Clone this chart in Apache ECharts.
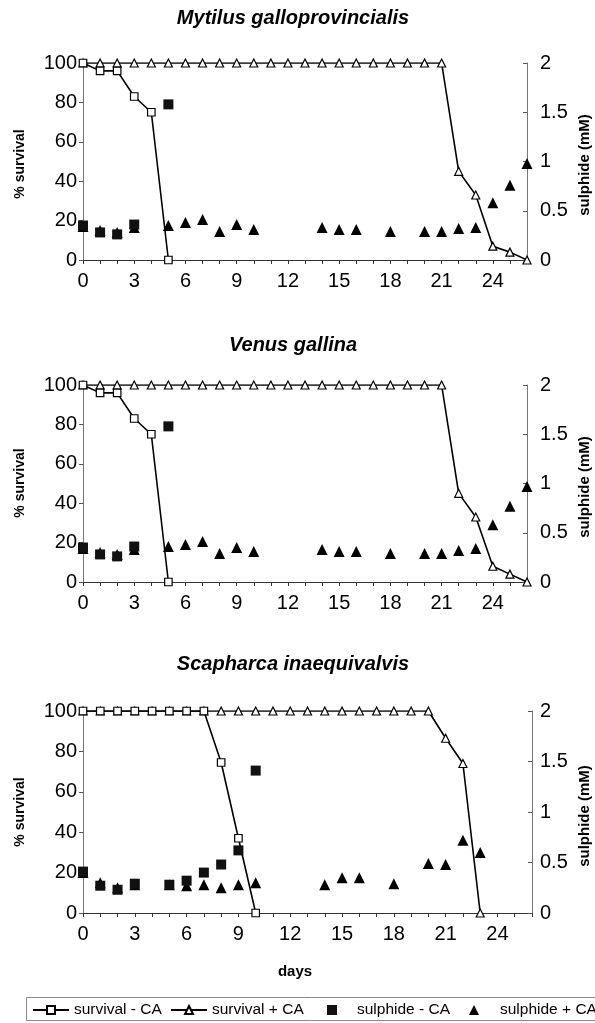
<!DOCTYPE html>
<html>
<head>
<meta charset="utf-8">
<script src="https://cdn.jsdelivr.net/npm/echarts@6/dist/echarts.min.js"></script>
<style>
html,body{margin:0;padding:0;background:#fff;}
#chart{width:595px;height:1023px;}
</style>
</head>
<body>
<div id="chart"></div>
<script>
// ---- Data (day, value) ----
const panelTitles = ['Mytilus galloprovincialis', 'Venus gallina', 'Scapharca inaequivalvis'];
const seriesNames = ['survival - CA', 'survival + CA', 'sulphide - CA', 'sulphide + CA'];
const xTickLabels = [0, 3, 6, 9, 12, 15, 18, 21, 24];
const leftTicks = [0, 20, 40, 60, 80, 100];
const rightTicks = [0, 0.5, 1, 1.5, 2];

// Mytilus galloprovincialis
const mytSurvMinus = [[0,100],[1,96],[2,96],[3,83],[4,75],[5,0]];
const mytSurvPlus = [[0,100],[1,100],[2,100],[3,100],[4,100],[5,100],[6,100],[7,100],[8,100],[9,100],[10,100],[11,100],[12,100],[13,100],[14,100],[15,100],[16,100],[17,100],[18,100],[19,100],[20,100],[21,100],[22,45],[23,33],[24,7],[25,4],[26,0]];
const mytSulphMinus = [[0,0.35],[1,0.28],[2,0.26],[3,0.36],[5,1.58]];
const mytSulphPlus = [[0,0.34],[1,0.30],[2,0.28],[3,0.33],[5,0.35],[6,0.38],[7,0.41],[8,0.29],[9,0.36],[10,0.31],[14,0.33],[15,0.31],[16,0.31],[18,0.29],[20,0.29],[21,0.29],[22,0.32],[23,0.33],[24,0.58],[25,0.76],[26,0.98]];

// Venus gallina
const venSurvMinus = [[0,100],[1,96],[2,96],[3,83],[4,75],[5,0]];
const venSurvPlus = [[0,100],[1,100],[2,100],[3,100],[4,100],[5,100],[6,100],[7,100],[8,100],[9,100],[10,100],[11,100],[12,100],[13,100],[14,100],[15,100],[16,100],[17,100],[18,100],[19,100],[20,100],[21,100],[22,45],[23,33],[24,8],[25,4],[26,0]];
const venSulphMinus = [[0,0.35],[1,0.28],[2,0.26],[3,0.36],[5,1.58]];
const venSulphPlus = [[0,0.34],[1,0.30],[2,0.28],[3,0.33],[5,0.36],[6,0.38],[7,0.41],[8,0.29],[9,0.35],[10,0.31],[14,0.33],[15,0.31],[16,0.31],[18,0.29],[20,0.29],[21,0.29],[22,0.32],[23,0.34],[24,0.58],[25,0.77],[26,0.97]];

// Scapharca inaequivalvis
const scaSurvMinus = [[0,100],[1,100],[2,100],[3,100],[4,100],[5,100],[6,100],[7,100],[8,74.5],[9,37],[10,0]];
const scaSurvPlus = [[0,100],[1,100],[2,100],[3,100],[4,100],[5,100],[6,100],[7,100],[8,100],[9,100],[10,100],[11,100],[12,100],[13,100],[14,100],[15,100],[16,100],[17,100],[18,100],[19,100],[20,100],[21,86.5],[22,74],[23,0]];
const scaSulphMinus = [[0,0.41],[1,0.27],[2,0.23],[3,0.29],[5,0.28],[6,0.32],[7,0.40],[8,0.48],[9,0.62],[10,1.41]];
const scaSulphPlus = [[0,0.40],[1,0.30],[2,0.25],[3,0.28],[5,0.28],[6,0.27],[7,0.28],[8,0.25],[9,0.28],[10,0.30],[14,0.28],[15,0.35],[16,0.35],[18,0.29],[20,0.49],[21,0.48],[22,0.72],[23,0.60]];

const panels = [
  {survMinus: mytSurvMinus, survPlus: mytSurvPlus, sulphMinus: mytSulphMinus, sulphPlus: mytSulphPlus},
  {survMinus: venSurvMinus, survPlus: venSurvPlus, sulphMinus: venSulphMinus, sulphPlus: venSulphPlus},
  {survMinus: scaSurvMinus, survPlus: scaSurvPlus, sulphMinus: scaSulphMinus, sulphPlus: scaSulphPlus}
];

// ---- Layout ----
const FONT = '"Liberation Sans", Arial, Helvetica, sans-serif';
const grids = [
  {left: 83, right: 68, top: 63, height: 197},
  {left: 83, right: 68, top: 385, height: 197},
  {left: 83, right: 63, top: 711, height: 202}
];
const titleY = [18, 345, 664];
const leftNameY = [164, 483, 812];
const rightNameY = [165, 487, 816];
const rightLabelMargin = [13, 13, 8];

const chart = echarts.init(document.getElementById('chart'), null, {renderer: 'canvas'});

const xAxes = [], yAxes = [], series = [], graphics = [];
grids.forEach((g, i) => {
  xAxes.push({
    type: 'value', gridIndex: i, min: 0, max: 26, interval: 1,
    axisLine: {lineStyle: {color: '#333', width: 1}},
    axisTick: {show: true, length: 4, lineStyle: {color: '#333'}},
    splitLine: {show: false},
    axisLabel: {
      margin: 11, color: '#000', fontSize: 20, fontFamily: FONT,
      formatter: v => xTickLabels.indexOf(v) >= 0 ? String(v) : ''
    }
  });
  yAxes.push({
    type: 'value', gridIndex: i, position: 'left', min: 0, max: 100, interval: 20,
    axisLine: {show: true, lineStyle: {color: '#777', width: 1}},
    axisTick: {show: true, length: 4, lineStyle: {color: '#555'}},
    splitLine: {show: false},
    axisLabel: {margin: 6, color: '#000', fontSize: 20, fontFamily: FONT,
      formatter: v => leftTicks.indexOf(v) >= 0 ? String(v) : ''}
  });
  yAxes.push({
    type: 'value', gridIndex: i, position: 'right', min: 0, max: 2, interval: 0.5,
    axisLine: {show: true, lineStyle: {color: '#777', width: 1}},
    axisTick: {show: true, inside: true, length: 4, lineStyle: {color: '#555'}},
    splitLine: {show: false},
    axisLabel: {margin: rightLabelMargin[i], color: '#000', fontSize: 20, fontFamily: FONT,
      formatter: v => rightTicks.indexOf(v) >= 0 ? String(v) : ''}
  });
  const p = panels[i];
  series.push({
    name: seriesNames[1], type: 'line', xAxisIndex: i, yAxisIndex: 2 * i,
    data: p.survPlus, symbol: 'triangle', symbolSize: 8, showAllSymbol: true,
    lineStyle: {color: '#000', width: 1.6}, itemStyle: {color: '#fff', borderColor: '#000', borderWidth: 1.2},
    z: 2
  });
  series.push({
    name: seriesNames[0], type: 'line', xAxisIndex: i, yAxisIndex: 2 * i,
    data: p.survMinus, symbol: 'rect', symbolSize: 7.5, showAllSymbol: true,
    lineStyle: {color: '#000', width: 1.6}, itemStyle: {color: '#fff', borderColor: '#000', borderWidth: 1.2},
    z: 3
  });
  series.push({
    name: seriesNames[3], type: 'scatter', xAxisIndex: i, yAxisIndex: 2 * i + 1,
    data: p.sulphPlus, symbol: 'triangle', symbolSize: 11,
    itemStyle: {color: '#000', opacity: 1}, z: 4
  });
  series.push({
    name: seriesNames[2], type: 'scatter', xAxisIndex: i, yAxisIndex: 2 * i + 1,
    data: p.sulphMinus, symbol: 'rect', symbolSize: 10,
    itemStyle: {color: '#111', opacity: 1}, z: 5
  });

  graphics.push({
    type: 'text', x: 293, y: titleY[i], z: 10,
    style: {text: panelTitles[i], font: 'italic bold 20px ' + FONT, fill: '#000', textAlign: 'center', textVerticalAlign: 'middle'}
  });
  graphics.push({
    type: 'text', x: 20, y: leftNameY[i], rotation: Math.PI / 2, z: 10,
    style: {text: '% survival', font: 'bold 14px ' + FONT, fill: '#000', textAlign: 'center', textVerticalAlign: 'middle'}
  });
  graphics.push({
    type: 'text', x: 585, y: rightNameY[i], rotation: Math.PI / 2, z: 10,
    style: {text: 'sulphide (mM)', font: 'bold 15px ' + FONT, fill: '#000', textAlign: 'center', textVerticalAlign: 'middle'}
  });
});

graphics.push({
  type: 'text', x: 295, y: 972, z: 10,
  style: {text: 'days', font: 'bold 15px ' + FONT, fill: '#000', textAlign: 'center', textVerticalAlign: 'middle'}
});
graphics.push({
  type: 'rect', z: 0, shape: {x: 26.5, y: 997.5, width: 580, height: 23},
  style: {fill: 'none', stroke: '#888', lineWidth: 1}
});

const legendCfg = [
  {left: 32, w: 36, h: 10, pad: 0},
  {left: 170, w: 36, h: 10, pad: 0},
  {left: 327, w: 10, h: 10, pad: 15},
  {left: 469, w: 10, h: 10, pad: 16}
];
const legends = seriesNames.map((n, k) => ({
  data: [n], left: legendCfg[k].left, top: 1002, orient: 'horizontal',
  itemWidth: legendCfg[k].w, itemHeight: legendCfg[k].h, padding: 0,
  textStyle: {fontSize: 15.5, color: '#000', fontFamily: FONT, padding: [0, 0, 0, legendCfg[k].pad]},
  selectedMode: false
}));

chart.setOption({
  animation: false,
  backgroundColor: '#fff',
  grid: grids,
  xAxis: xAxes,
  yAxis: yAxes,
  series: series,
  legend: legends,
  graphic: graphics
});
</script>
</body>
</html>
